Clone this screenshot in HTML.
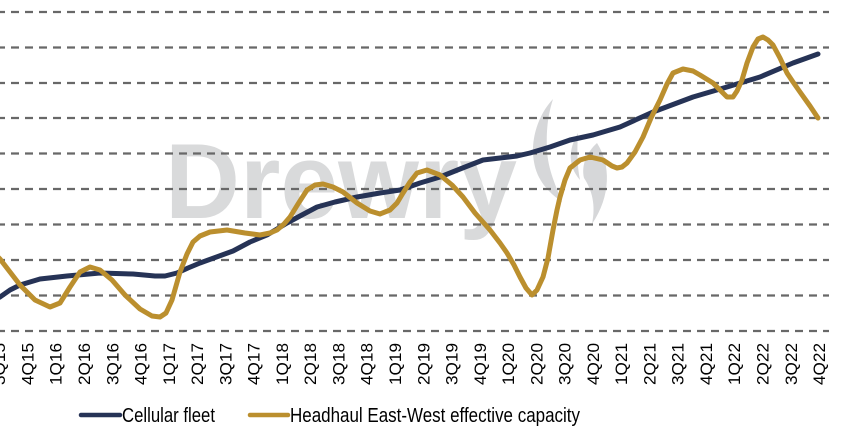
<!DOCTYPE html>
<html><head><meta charset="utf-8"><style>
html,body{margin:0;padding:0;background:#fff;}
svg{display:block;}
</style></head><body>
<svg width="865" height="428" viewBox="0 0 865 428" xmlns="http://www.w3.org/2000/svg">
<rect width="865" height="428" fill="#fff"/>
<!-- watermark -->
<text x="165" y="218" font-family="Liberation Sans, sans-serif" font-weight="bold" font-size="107" fill="#d9dadb" textLength="352" lengthAdjust="spacingAndGlyphs">Drewry</text>
<path d="M553,99 C538,115 530,140 534,162 C537,180 548,192 562,202 C556,186 548,170 547,150 C546,130 548,115 553,99 Z" fill="#d6d7d9"/>
<path d="M578,133 C568,150 568,166 580,180 C577,165 577,150 578,133 Z" fill="#d6d7d9"/>
<path d="M597,143 C611,165 611,196 592,224 C596,205 592,190 584,178 C581,165 587,152 597,143 Z" fill="#d6d7d9"/>
<!-- gridlines -->
<g stroke="#686868" stroke-width="2.3" stroke-dasharray="8 6" stroke-dashoffset="3" fill="none">
<line x1="0" x2="829" y1="12" y2="12"/>
<line x1="0" x2="829" y1="47.5" y2="47.5"/>
<line x1="0" x2="829" y1="83" y2="83"/>
<line x1="0" x2="829" y1="118" y2="118"/>
<line x1="0" x2="829" y1="153.5" y2="153.5"/>
<line x1="0" x2="829" y1="189" y2="189"/>
<line x1="0" x2="829" y1="224.5" y2="224.5"/>
<line x1="0" x2="829" y1="260" y2="260"/>
<line x1="0" x2="829" y1="295.5" y2="295.5"/>
<line x1="0" x2="829" y1="331" y2="331"/>
</g>
<!-- navy series -->
<polyline fill="none" stroke="#263356" stroke-width="5" stroke-linejoin="round" stroke-linecap="round" points="-2,298 0,297 10,290 20,285 40,279 67,276 100,273 133,274 155,276 165,276 177,273 188,268 200,263 233,251 250,242 267,235 287,223 300,216 317,207 335,202 357,197 380,193 400,190 420,183 440,177 460,169 483,160 500,158 517,156 530,153 550,147 570,140 593,135 620,127 653,112 693,97 727,87 760,77 793,63 818,54"/>
<!-- gold series -->
<polyline fill="none" stroke="#bb8f2e" stroke-width="5" stroke-linejoin="round" stroke-linecap="round" points="-2,257 0,259 10,272 20,285 35,300 50,307 60,303 70,287 80,272 90,267 100,270 112,280 125,295 140,309 152,316 160,317 166,313 172,300 180,272 187,254 193,242 200,236 210,232 227,230 245,233 260,235 270,233 277,230 284,224 290,217 298,204 307,190 315,185 323,184 333,187 343,192 357,203 370,211 380,214 390,210 397,203 403,193 410,182 417,173 427,170 440,175 452,185 463,197 475,213 490,230 500,243 507,253 514,265 520,277 526,288 532,295 537,290 543,277 548,258 553,230 557,210 560,197 565,180 570,168 580,160 590,157 603,160 612,166 617,168 622,167 627,163 635,152 643,137 651,118 660,100 667,84 673,73 683,69 693,71 700,75 713,83 720,90 727,97 733,97 737,91 742,80 747,63 753,47 758,39 763,37 768,40 773,45 780,58 787,73 793,82 800,92 810,106 818,118"/>
<!-- x labels -->
<g font-family="Liberation Sans, sans-serif" font-size="17" fill="#000" text-anchor="end">
<text transform="translate(-0.8,343) rotate(-90)" y="6" textLength="42" lengthAdjust="spacingAndGlyphs">3Q15</text>
<text transform="translate(27.5,343) rotate(-90)" y="6" textLength="42" lengthAdjust="spacingAndGlyphs">4Q15</text>
<text transform="translate(55.7,343) rotate(-90)" y="6" textLength="42" lengthAdjust="spacingAndGlyphs">1Q16</text>
<text transform="translate(84,343) rotate(-90)" y="6" textLength="42" lengthAdjust="spacingAndGlyphs">2Q16</text>
<text transform="translate(112.3,343) rotate(-90)" y="6" textLength="42" lengthAdjust="spacingAndGlyphs">3Q16</text>
<text transform="translate(140.6,343) rotate(-90)" y="6" textLength="42" lengthAdjust="spacingAndGlyphs">4Q16</text>
<text transform="translate(168.8,343) rotate(-90)" y="6" textLength="42" lengthAdjust="spacingAndGlyphs">1Q17</text>
<text transform="translate(197.1,343) rotate(-90)" y="6" textLength="42" lengthAdjust="spacingAndGlyphs">2Q17</text>
<text transform="translate(225.4,343) rotate(-90)" y="6" textLength="42" lengthAdjust="spacingAndGlyphs">3Q17</text>
<text transform="translate(253.6,343) rotate(-90)" y="6" textLength="42" lengthAdjust="spacingAndGlyphs">4Q17</text>
<text transform="translate(281.9,343) rotate(-90)" y="6" textLength="42" lengthAdjust="spacingAndGlyphs">1Q18</text>
<text transform="translate(310.2,343) rotate(-90)" y="6" textLength="42" lengthAdjust="spacingAndGlyphs">2Q18</text>
<text transform="translate(338.4,343) rotate(-90)" y="6" textLength="42" lengthAdjust="spacingAndGlyphs">3Q18</text>
<text transform="translate(366.7,343) rotate(-90)" y="6" textLength="42" lengthAdjust="spacingAndGlyphs">4Q18</text>
<text transform="translate(395,343) rotate(-90)" y="6" textLength="42" lengthAdjust="spacingAndGlyphs">1Q19</text>
<text transform="translate(423.3,343) rotate(-90)" y="6" textLength="42" lengthAdjust="spacingAndGlyphs">2Q19</text>
<text transform="translate(451.5,343) rotate(-90)" y="6" textLength="42" lengthAdjust="spacingAndGlyphs">3Q19</text>
<text transform="translate(479.8,343) rotate(-90)" y="6" textLength="42" lengthAdjust="spacingAndGlyphs">4Q19</text>
<text transform="translate(508.1,343) rotate(-90)" y="6" textLength="42" lengthAdjust="spacingAndGlyphs">1Q20</text>
<text transform="translate(536.3,343) rotate(-90)" y="6" textLength="42" lengthAdjust="spacingAndGlyphs">2Q20</text>
<text transform="translate(564.6,343) rotate(-90)" y="6" textLength="42" lengthAdjust="spacingAndGlyphs">3Q20</text>
<text transform="translate(592.9,343) rotate(-90)" y="6" textLength="42" lengthAdjust="spacingAndGlyphs">4Q20</text>
<text transform="translate(621.1,343) rotate(-90)" y="6" textLength="42" lengthAdjust="spacingAndGlyphs">1Q21</text>
<text transform="translate(649.4,343) rotate(-90)" y="6" textLength="42" lengthAdjust="spacingAndGlyphs">2Q21</text>
<text transform="translate(677.7,343) rotate(-90)" y="6" textLength="42" lengthAdjust="spacingAndGlyphs">3Q21</text>
<text transform="translate(705.9,343) rotate(-90)" y="6" textLength="42" lengthAdjust="spacingAndGlyphs">4Q21</text>
<text transform="translate(734.2,343) rotate(-90)" y="6" textLength="42" lengthAdjust="spacingAndGlyphs">1Q22</text>
<text transform="translate(762.5,343) rotate(-90)" y="6" textLength="42" lengthAdjust="spacingAndGlyphs">2Q22</text>
<text transform="translate(790.8,343) rotate(-90)" y="6" textLength="42" lengthAdjust="spacingAndGlyphs">3Q22</text>
<text transform="translate(819,343) rotate(-90)" y="6" textLength="42" lengthAdjust="spacingAndGlyphs">4Q22</text>
</g>
<!-- legend -->
<line x1="81" x2="120" y1="415" y2="415" stroke="#263356" stroke-width="4.5" stroke-linecap="round"/>
<text x="122" y="422" font-family="Liberation Sans, sans-serif" font-size="20" fill="#000" textLength="93" lengthAdjust="spacingAndGlyphs">Cellular fleet</text>
<line x1="250" x2="288" y1="415" y2="415" stroke="#bb8f2e" stroke-width="4.5" stroke-linecap="round"/>
<text x="290" y="422" font-family="Liberation Sans, sans-serif" font-size="20" fill="#000" textLength="290" lengthAdjust="spacingAndGlyphs">Headhaul East-West effective capacity</text>
</svg>
</body></html>
